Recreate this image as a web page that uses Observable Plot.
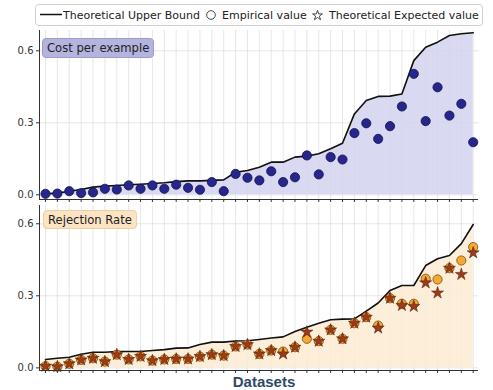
<!DOCTYPE html>
<html><head><meta charset="utf-8">
<script src="https://cdn.jsdelivr.net/npm/d3@7"></script>
<script src="https://cdn.jsdelivr.net/npm/@observablehq/plot@0.6"></script>
<style>
body{margin:0;background:#fff;font-family:"DejaVu Sans",sans-serif;}
#wrap{position:relative;width:493px;height:390px;overflow:hidden;background:#fff;}
.abs{position:absolute;}
.tag{position:absolute;font-size:11.6px;line-height:18px;color:#222;padding:0 4px;border-radius:4px;box-sizing:border-box;white-space:nowrap;}
</style></head><body><div id="wrap"></div>
<script>
const datasets = d3.range(1, 38).map(i => "D" + i);
const costUpper = [0.004,0.007,0.015,0.022,0.032,0.036,0.039,0.042,0.044,0.047,0.05,0.055,0.058,0.058,0.06,0.062,0.094,0.101,
  0.115,0.136,0.136,0.157,0.161,0.171,0.192,0.215,0.337,0.393,0.41,0.411,0.42,0.559,0.615,0.636,0.664,0.671,0.675];
const costEmpirical = [0.004,0.005,0.015,0.007,0.01,0.025,0.022,0.039,0.025,0.039,0.025,0.042,0.029,0.021,0.053,0.015,0.087,0.071,
  0.06,0.098,0.053,0.073,0.164,0.085,0.157,0.147,0.257,0.298,0.233,0.286,0.368,0.504,0.307,0.448,0.33,0.379,0.219];
const rejUpper = [0.035,0.04,0.044,0.057,0.065,0.065,0.068,0.068,0.068,0.072,0.076,0.082,0.083,0.097,0.107,0.107,0.112,0.113,
  0.118,0.124,0.129,0.151,0.169,0.186,0.2,0.203,0.204,0.236,0.27,0.322,0.343,0.343,0.426,0.454,0.468,0.517,0.597];
const rejEmpirical = [0.007,0.005,0.017,0.033,0.04,0.026,0.055,0.035,0.048,0.03,0.035,0.037,0.037,0.047,0.055,0.051,0.089,0.097,
  0.058,0.072,0.068,0.086,0.121,0.111,0.158,0.121,0.186,0.211,0.176,0.29,0.267,0.267,0.371,0.368,0.415,0.447,0.503];
const rejExpected = [0.007,0.005,0.017,0.033,0.04,0.026,0.055,0.035,0.048,0.03,0.035,0.037,0.037,0.047,0.055,0.051,0.089,0.097,
  0.058,0.072,0.058,0.086,0.149,0.111,0.158,0.121,0.186,0.211,0.166,0.29,0.26,0.256,0.354,0.312,0.415,0.389,0.479];
const yTicks = [0, 0.3, 0.6];

const wrap = document.getElementById("wrap");
const W = 493;
const xDomain = [-0.505, 36.446];
const idx = d3.range(datasets.length);

function panel({upper, yDomain, h, mt, mb, fill, marks}) {
  const rows = idx.map(i => ({i, name: datasets[i], ub: upper[i]}));
  return Plot.plot({
    width: W, height: h,
    marginLeft: 39, marginRight: 15, marginTop: mt, marginBottom: mb,
    style: {fontFamily: "DejaVu Sans", fontSize: "10px", color: "#333", background: "transparent", overflow: "visible"},
    x: {domain: xDomain, axis: null},
    y: {domain: yDomain, axis: null},
    marks: [
      Plot.gridX(idx, {stroke: "#dcdcdc", strokeOpacity: 1, strokeWidth: 0.7}),
      Plot.gridY(yTicks, {stroke: "#dcdcdc", strokeOpacity: 1, strokeWidth: 0.7}),
      Plot.areaY(rows, {x: "i", y: "ub", fill, fillOpacity: 0.85}),
      Plot.lineY(rows, {x: "i", y: "ub", stroke: "#111", strokeWidth: 1.6}),
      ...marks,
      Plot.ruleX([xDomain[0]], {stroke: "#333", strokeWidth: 1}),
      Plot.ruleY([yDomain[0]], {stroke: "#333", strokeWidth: 1}),
      Plot.axisY(yTicks, {tickSize: 3, tickPadding: 3, tickFormat: d => d.toFixed(1), label: null, fontSize: 10}),
      Plot.axisX(idx, {tickSize: 3, tickFormat: () => "", label: null})
    ]
  });
}

const topPlot = panel({
  upper: costUpper, yDomain: [-0.0196, 0.6846], h: 178, mt: 4, mb: 5, fill: "#d2d4ee",
  marks: [Plot.dot(idx, {x: i => i, y: i => costEmpirical[i], r: 4.6, fill: "#26268c", stroke: "#12124f", strokeWidth: 0.8})]
});
topPlot.classList.add("abs"); topPlot.style.left = "0px"; topPlot.style.top = "26px";
wrap.appendChild(topPlot);

const botPlot = panel({
  upper: rejUpper, yDomain: [-0.011, 0.676], h: 186, mt: 1, mb: 20, fill: "#fdebd2",
  marks: [
    Plot.dot(idx, {x: i => i, y: i => rejEmpirical[i], r: 4.6, fill: "#f5a833", stroke: "#7a4a12", strokeWidth: 0.8}),
    Plot.dot(idx, {x: i => i, y: i => rejExpected[i], symbol: "star", r: 3.8, fill: "#9c3b1a", stroke: "#4a1a08", strokeWidth: 0.5})
  ]
});
botPlot.classList.add("abs"); botPlot.style.left = "0px"; botPlot.style.top = "204px";
wrap.appendChild(botPlot);

// panel labels
const t1 = document.createElement("div");
t1.className = "tag";
Object.assign(t1.style, {left: "42px", top: "38px", height: "20px", background: "#b4b4de", border: "1px solid #9c9ccc"});
t1.textContent = "Cost per example";
wrap.appendChild(t1);
const t2 = document.createElement("div");
t2.className = "tag";
Object.assign(t2.style, {left: "43px", top: "210px", height: "19px", background: "#fbe4c4", border: "1px solid #efcf9f"});
t2.textContent = "Rejection Rate";
wrap.appendChild(t2);

// x label
const xl = document.createElement("div");
xl.className = "abs";
Object.assign(xl.style, {left: "164px", width: "200px", top: "373px", textAlign: "center", font: "bold 15px 'Liberation Sans', Arial, sans-serif", color: "#2e4a66"});
xl.textContent = "Datasets";
wrap.appendChild(xl);

// legend
const lg = d3.create("svg").attr("width", W).attr("height", 28).attr("class", "abs")
  .style("left", "0px").style("top", "0px").style("font-family", "DejaVu Sans").style("font-size", "11px");
lg.append("rect").attr("x", 35.5).attr("y", 4.5).attr("width", 447).attr("height", 21).attr("rx", 3)
  .attr("fill", "#fff").attr("stroke", "#cfcfcf");
lg.append("line").attr("x1", 40).attr("x2", 62).attr("y1", 14.5).attr("y2", 14.5).attr("stroke", "#111").attr("stroke-width", 1.5);
lg.append("text").attr("x", 63).attr("y", 18.5).attr("fill", "#222").text("Theoretical Upper Bound");
lg.append("circle").attr("cx", 211).attr("cy", 15).attr("r", 4.3).attr("fill", "none").attr("stroke", "#333").attr("stroke-width", 0.9);
lg.append("text").attr("x", 222).attr("y", 18.5).attr("fill", "#222").text("Empirical value");
lg.append("path").attr("d", d3.symbol(d3.symbolStar, 30)()).attr("transform", "translate(317.5,15.5)")
  .attr("fill", "none").attr("stroke", "#333").attr("stroke-width", 0.9);
lg.append("text").attr("x", 329).attr("y", 18.5).attr("fill", "#222").text("Theoretical Expected value");
wrap.appendChild(lg.node());
</script></body></html>
